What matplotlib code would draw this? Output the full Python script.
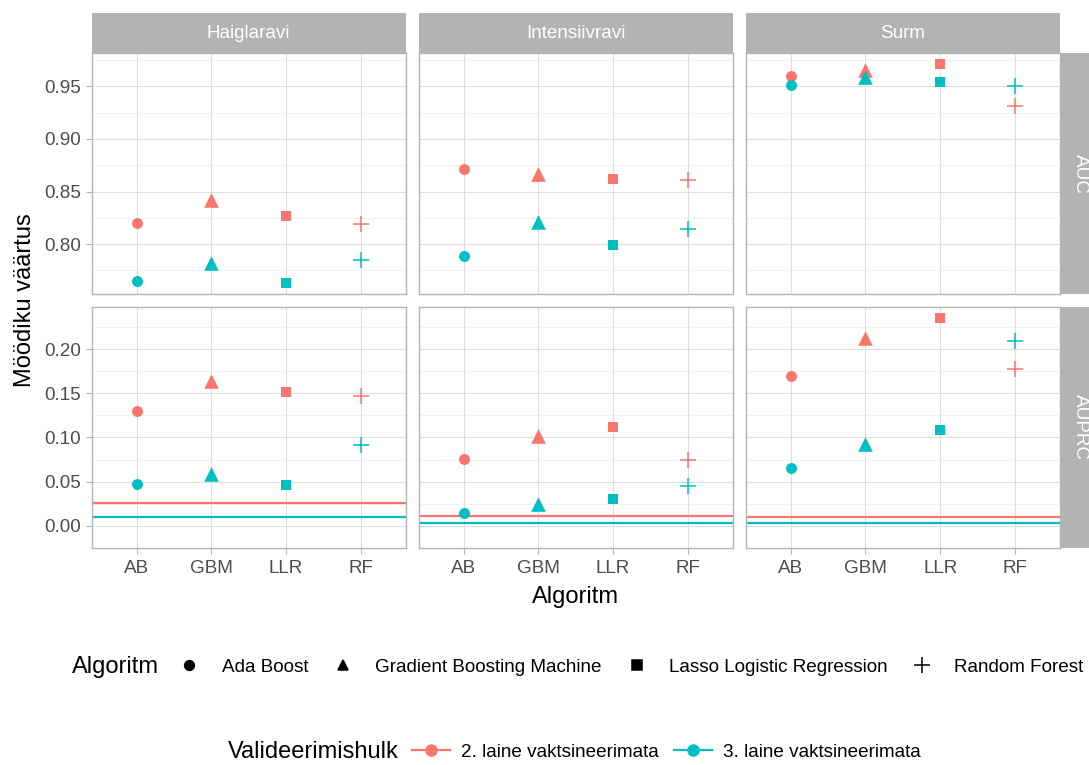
"""
Mudelite võrdlus: AUC ja AUPRC valideerimishulkade kaupa (ggplot-stiilis facet grid).
"""

import matplotlib
matplotlib.use("Agg")
import matplotlib.pyplot as plt
from matplotlib.lines import Line2D
import numpy as np

plt.rcParams["font.family"] = ["Liberation Sans", "DejaVu Sans"]

# --- andmed ---------------------------------------------------------------
facets = ["Haiglaravi", "Intensiivravi", "Surm"]
metrics = ["AUC", "AUPRC"]
algos = ["AB", "GBM", "LLR", "RF"]
algo_names = ["Ada Boost", "Gradient Boosting Machine",
              "Lasso Logistic Regression", "Random Forest"]
val_sets = ["2. laine vaktsineerimata", "3. laine vaktsineerimata"]

# AUC, üks rida iga facet'i kohta (AB, GBM, LLR, RF)
auc_wave2 = [[0.820, 0.842, 0.827, 0.819],
             [0.871, 0.867, 0.862, 0.861],
             [0.960, 0.966, 0.971, 0.931]]
auc_wave3 = [[0.765, 0.782, 0.763, 0.785],
             [0.789, 0.821, 0.799, 0.814],
             [0.951, 0.959, 0.954, 0.950]]

# AUPRC
auprc_wave2 = [[0.130, 0.164, 0.152, 0.147],
               [0.076, 0.102, 0.112, 0.075],
               [0.170, 0.213, 0.236, 0.178]]
auprc_wave3 = [[0.047, 0.059, 0.046, 0.091],
               [0.014, 0.025, 0.030, 0.045],
               [0.065, 0.093, 0.108, 0.210]]

# AUPRC baastase (haiguse esinemissagedus)
base_wave2 = [0.0255, 0.0114, 0.0099]
base_wave3 = [0.0096, 0.0035, 0.0025]

auc_ticks = [0.80, 0.85, 0.90, 0.95]
auprc_ticks = [0.00, 0.05, 0.10, 0.15, 0.20]

# --- stiil ------------------------------------------------------------------
colors = ["#F8766D", "#00BFC4"]
markers = ["o", "^", "s", "+"]
msizes = [62, 110, 62, 140]
grey70 = "#B3B3B3"
grid_major = "#DEDEDE"
grid_minor = "#EFEFEF"
txt_grey = "#4D4D4D"
BASE = 17
SMALL = 13.6

W, H = 1089, 765
fig = plt.figure(figsize=(W / 100, H / 100), dpi=100)


def box(x0, y0, x1, y1):
    return [x0 / W, 1 - y1 / H, (x1 - x0) / W, (y1 - y0) / H]


col_x = [(91.7, 405.7), (418.7, 732.7), (745.7, 1060.0)]
row_y = [(53.3, 294.0), (307.3, 547.7)]

rows = [(auc_wave2, auc_wave3, None, None, auc_ticks),
        (auprc_wave2, auprc_wave3, base_wave2, base_wave3, auprc_ticks)]

xpos = np.arange(1, len(algos) + 1)

for r, (w2, w3, b2, b3, ticks) in enumerate(rows):
    vals = np.array(w2 + w3).ravel()
    if b2 is not None:
        vals = np.concatenate([vals, b2, b3])
    lo, hi = vals.min(), vals.max()
    pad = 0.05 * (hi - lo)
    ylim = (lo - pad, hi + pad)
    minor = [(a + b) / 2 for a, b in zip(ticks[:-1], ticks[1:])]
    minor = [ticks[0] - 0.025] + minor + [ticks[-1] + 0.025]

    for c, facet in enumerate(facets):
        ax = fig.add_axes(box(col_x[c][0], row_y[r][0], col_x[c][1], row_y[r][1]))
        ax.set_xlim(0.4, 4.6)
        ax.set_ylim(*ylim)
        ax.set_xticks(xpos)
        ax.set_yticks(ticks)
        ax.set_yticks(minor, minor=True)
        ax.grid(True, which="major", color=grid_major, linewidth=0.8)
        ax.grid(True, which="minor", axis="y", color=grid_minor, linewidth=0.6)
        ax.set_axisbelow(True)
        for s in ax.spines.values():
            s.set_color(grey70)
            s.set_linewidth(1.0)
        ax.tick_params(which="both", length=0)
        ax.tick_params(which="major", color=grey70, labelcolor=txt_grey,
                       labelsize=SMALL, width=0.8)
        if c == 0:
            ax.tick_params(axis="y", which="major", length=4)
            ax.set_yticklabels([f"{t:.2f}" for t in ticks])
        else:
            ax.set_yticklabels([])
        if r == 1:
            ax.tick_params(axis="x", which="major", length=4, pad=5)
            ax.set_xticklabels(algos)
        else:
            ax.set_xticklabels([])

        if b2 is not None:
            ax.axhline(b2[c], color=colors[0], linewidth=1.6, zorder=2)
            ax.axhline(b3[c], color=colors[1], linewidth=1.6, zorder=2)

        for k, series in enumerate([w2[c], w3[c]]):
            for i in range(len(algos)):
                ax.scatter(xpos[i], series[i], marker=markers[i], s=msizes[i],
                           color=colors[k], linewidths=1.1 if markers[i] == "+" else 0,
                           zorder=3)

        # ülemine riba (facet pealkiri)
        if r == 0:
            sax = fig.add_axes(box(col_x[c][0], 13.3, col_x[c][1], 53.3))
            sax.set_facecolor(grey70)
            sax.set_xticks([]); sax.set_yticks([])
            for s in sax.spines.values():
                s.set_visible(False)
            sax.text(0.5, 0.5, facet, color="white", fontsize=SMALL,
                     ha="center", va="center", transform=sax.transAxes)

    # parempoolne riba (mõõdik)
    rax = fig.add_axes(box(1060.0, row_y[r][0], 1100.0, row_y[r][1]))
    rax.set_facecolor(grey70)
    rax.set_xticks([]); rax.set_yticks([])
    for s in rax.spines.values():
        s.set_visible(False)
    rax.text(0.5, 0.5, metrics[r], color="white", fontsize=SMALL, rotation=-90,
             ha="center", va="center", transform=rax.transAxes)

# telgede pealkirjad
fig.text(25 / W, 1 - 300 / H, "Möödiku väärtus", rotation=90, fontsize=BASE,
         ha="center", va="center")
fig.text(575 / W, 1 - 597 / H, "Algoritm", fontsize=BASE, ha="center", va="center")

# legend 1: algoritm (kuju)
fig.text(72 / W, 1 - 667 / H, "Algoritm", fontsize=BASE, ha="left", va="center")
shape_handles = [Line2D([], [], linestyle="none", marker=m, color="black",
                        markersize=7 if m != "+" else 11, markeredgewidth=1.1)
                 for m in markers]
leg1 = fig.legend(shape_handles, algo_names, loc="center left",
                  bbox_to_anchor=(180 / W, 1 - 667 / H), ncol=4, frameon=False,
                  fontsize=SMALL, handlelength=1.0, handletextpad=1.2,
                  columnspacing=1.35, borderpad=0, borderaxespad=0)

# legend 2: valideerimishulk (värv)
fig.text(228 / W, 1 - 752 / H, "Valideerimishulk", fontsize=BASE, ha="left", va="center")
col_handles = [Line2D([], [], color=col, marker="o", markersize=8, linewidth=1.6)
               for col in colors]
leg2 = fig.legend(col_handles, val_sets, loc="center left",
                  bbox_to_anchor=(412 / W, 1 - 752 / H), ncol=2, frameon=False,
                  fontsize=SMALL, handlelength=2.0, handletextpad=0.6,
                  columnspacing=0.8, borderpad=0, borderaxespad=0)

fig.savefig("out.png", dpi=100)
plt.close(fig)
